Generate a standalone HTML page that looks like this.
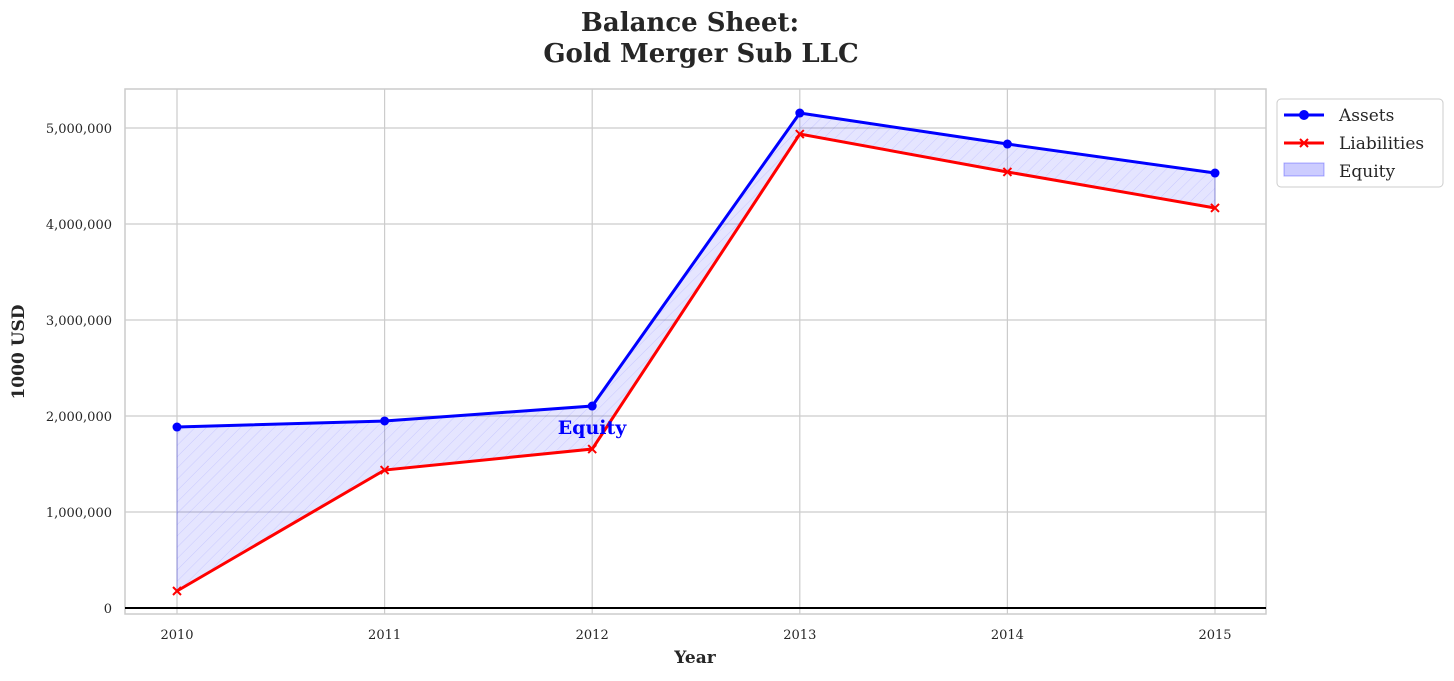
<!DOCTYPE html>
<html><head><meta charset="utf-8"><style>
body{margin:0;background:#fff;}
svg text{font-family:"DejaVu Serif","Liberation Serif",serif;fill:#262626;}
</style></head><body>
<svg width="1454" height="676">
<defs><pattern id="hatch" patternUnits="userSpaceOnUse" width="8" height="8" patternTransform="rotate(45)">
<rect width="8" height="8" fill="rgba(0,0,255,0.1)"/><line x1="0" y1="0" x2="0" y2="8" stroke="rgba(0,0,255,0.12)" stroke-width="1"/></pattern></defs>
<text x="690" y="31" text-anchor="middle" font-size="26" font-weight="bold">Balance Sheet:</text>
<text x="701" y="62" text-anchor="middle" font-size="26" font-weight="bold">Gold Merger Sub LLC</text>
<g id="grid"></g>
<rect x="125" y="89" width="1141" height="525" fill="none" stroke="#ccc" stroke-width="1.5"/>
<g id="marks"></g>
<text x="695" y="663" text-anchor="middle" font-size="17" font-weight="bold">Year</text>
<text transform="translate(24,352) rotate(-90)" text-anchor="middle" font-size="17" font-weight="bold">1000 USD</text>
<text x="592" y="434" text-anchor="middle" font-size="19" font-weight="bold" style="fill:#0000ff">Equity</text>
<g>
<rect x="1277" y="99" width="166" height="88" rx="4" fill="#fff" stroke="#ccc"/>
<g><line x1="1284" y1="115" x2="1324" y2="115" stroke="#0000ff" stroke-width="3"/><circle cx="1304" cy="115" r="5" fill="#0000ff"/><text x="1339" y="121" font-size="17">Assets</text></g>
<g><line x1="1284" y1="143" x2="1324" y2="143" stroke="#ff0000" stroke-width="3"/><path d="M1300,139L1308,147M1300,147L1308,139" stroke="#ff0000" stroke-width="2"/><text x="1339" y="149" font-size="17">Liabilities</text></g>
<g><rect x="1284" y="163" width="40" height="13" fill="rgba(0,0,255,0.2)" stroke="rgba(0,0,255,0.3)"/><text x="1339" y="177" font-size="17">Equity</text></g>
</g>
</svg>
<script>
const years=["2010","2011","2012","2013","2014","2015"];
const assets=[1885000,1948000,2104000,5156000,4833000,4531000];
const liabilities=[177000,1437000,1656000,4937000,4542000,4167000];
const yTicks=[0,1000000,2000000,3000000,4000000,5000000];
const NS="http://www.w3.org/2000/svg";
function xs(i){return 177+i*207.6;}
function ys(v){return 608-v*96/1000000;}
function mk(tag,attrs,parent){const e=document.createElementNS(NS,tag);for(const k in attrs)e.setAttribute(k,attrs[k]);parent.appendChild(e);return e;}
const grid=document.getElementById('grid'),marks=document.getElementById('marks');
yTicks.forEach(t=>{
 const l=mk('line',{x1:125,x2:1266,y1:ys(t),y2:ys(t),stroke:'#ccc','stroke-width':1.2},grid);
 
 
 const tx=mk('text',{x:112,y:ys(t)+5,'text-anchor':'end','font-size':13},grid);
 tx.textContent=t.toLocaleString('en-US');
 
 
});
years.forEach((y,i)=>{
 const l=mk('line',{x1:xs(i),x2:xs(i),y1:89,y2:614,stroke:'#ccc','stroke-width':1.2},grid);
 
 
 const tx=mk('text',{x:xs(i),y:639,'text-anchor':'middle','font-size':13},grid);
 tx.textContent=y;
 
 
});
const zl=mk('line',{x1:125,x2:1266,y1:ys(0),y2:ys(0),stroke:'#000','stroke-width':2},marks);


let d='';assets.forEach((v,i)=>d+=(i?'L':'M')+xs(i)+','+ys(v));
for(let i=liabilities.length-1;i>=0;i--)d+='L'+xs(i)+','+ys(liabilities[i]);
const area=mk('path',{d:d+'Z',fill:'url(#hatch)',stroke:'rgba(0,0,255,0.25)'},marks);


const pa=mk('polyline',{points:assets.map((v,i)=>xs(i)+','+ys(v)).join(' '),fill:'none',stroke:'#0000ff','stroke-width':3},marks);


const pl=mk('polyline',{points:liabilities.map((v,i)=>xs(i)+','+ys(v)).join(' '),fill:'none',stroke:'#ff0000','stroke-width':3},marks);


assets.forEach((v,i)=>{
 const c=mk('circle',{cx:xs(i),cy:ys(v),r:4.5,fill:'#0000ff'},marks);
 
 
});
liabilities.forEach((v,i)=>{
 const x=xs(i),y=ys(v);
 const p=mk('path',{d:`M${x-4},${y-4}L${x+4},${y+4}M${x-4},${y+4}L${x+4},${y-4}`,stroke:'#ff0000','stroke-width':2},marks);
 
 
});
</script>
</body></html>
